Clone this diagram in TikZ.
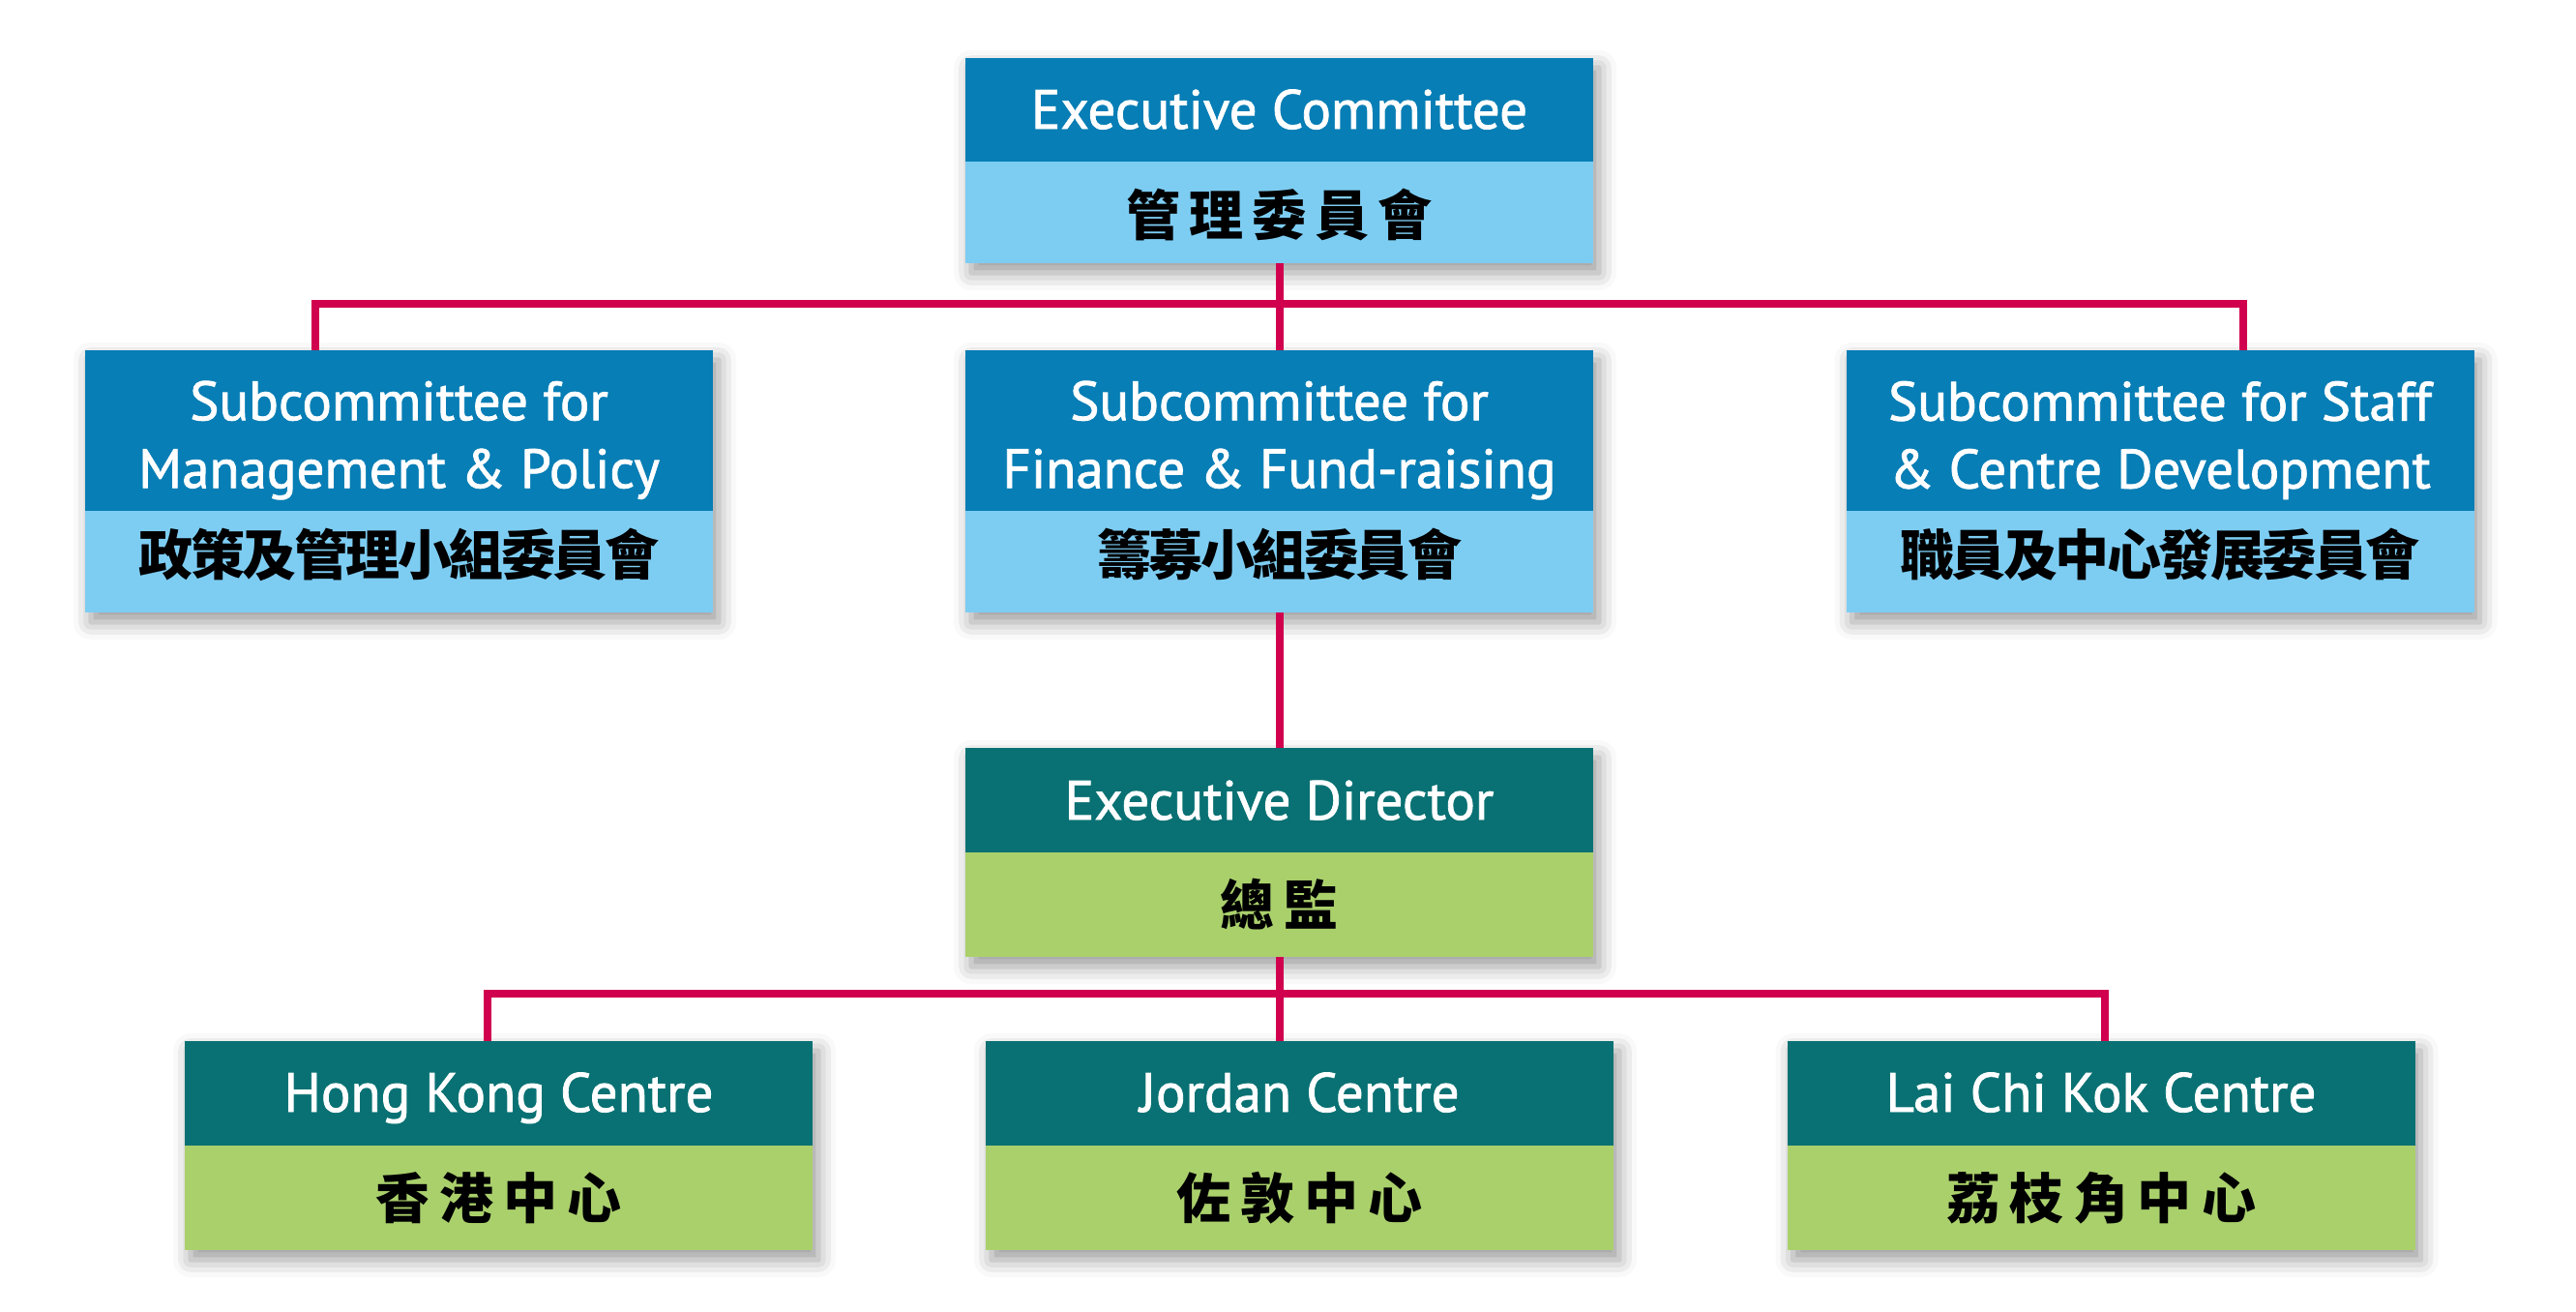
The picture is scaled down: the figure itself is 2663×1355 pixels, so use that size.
\documentclass[tikz,border=0pt]{standalone}
\usepackage{fontspec}
\setmainfont{PT Sans}[FakeBold=1.4]
\newfontfamily\cjk{Noto Sans CJK TC}
\usetikzlibrary{shadows.blur}
\definecolor{dblue}{RGB}{7,126,181}
\definecolor{lblue}{RGB}{125,205,243}
\definecolor{dteal}{RGB}{9,113,115}
\definecolor{lgreen}{RGB}{170,208,108}
\definecolor{conred}{RGB}{208,0,78}
% letter-spaced CJK: \cjksp{kern}{text}
\newcommand\cjksp[2]{\def\cjkspsep{\kern#1}\cjksploop#2\relax}
\def\cjksploop#1{\ifx\relax#1\else #1\expandafter\cjkspnext\fi}
\def\cjkspnext#1{\ifx\relax#1\else\cjkspsep #1\expandafter\cjkspnext\fi}
\tikzset{
  boxbase/.style={rectangle, inner sep=0pt, minimum width=649pt,
    blur shadow={shadow xshift=6pt, shadow yshift=-10pt, shadow blur radius=18pt, shadow opacity=40}},
  half/.style={rectangle, inner sep=0pt, minimum width=649pt, anchor=north},
  en/.style={inner sep=0pt, text=white, font=\fontsize{57pt}{70pt}\selectfont, align=center},
  zh/.style={inner sep=0pt, text=black, anchor=base, font=\fontsize{56pt}{60pt}\cjk\bfseries}
}
\tikzset{conn/.style={draw=conred, line width=8pt, line join=miter}}
\begin{document}
\begin{tikzpicture}[x=1pt,y=-1pt]
\useasboundingbox (0,0) rectangle (2663,1355);
% Executive Committee
\node[boxbase, fill=lblue, minimum height=212pt] (ec) at (1322.5,166) {};
\node[half, fill=dblue, minimum height=107pt] (ect) at (ec.north) {};
\node[en, anchor=base] (ecen) at (1322.5,133) {Executive Committee};
\node[zh] (eczh) at (1322.5,243) {\cjksp{9pt}{管理委員會}};
% Subcommittees
\node[boxbase, fill=lblue, minimum height=271pt] (mp) at (412.5,497.5) {};
\node[half, fill=dblue, minimum height=166pt] (mpt) at (mp.north) {};
\node[en] (mpen) at (412.5,455) {Subcommittee for\\Management \& Policy};
\node[zh] (mpzh) at (412.5,594) {\cjksp{-2.5pt}{政策及管理小組委員會}};
\node[boxbase, fill=lblue, minimum height=271pt] (mf) at (1322.5,497.5) {};
\node[half, fill=dblue, minimum height=166pt] (mft) at (mf.north) {};
\node[en] (mfen) at (1322.5,455) {Subcommittee for\\Finance \& Fund-raising};
\node[zh] (mfzh) at (1322.5,594) {\cjksp{-2.5pt}{籌募小組委員會}};
\node[boxbase, fill=lblue, minimum height=271pt] (sc) at (2233,497.5) {};
\node[half, fill=dblue, minimum height=166pt] (sct) at (sc.north) {};
\node[en] (scen) at (2233,455) {Subcommittee for Staff\\\& Centre Development};
\node[zh] (sczh) at (2233,594) {\cjksp{-2.5pt}{職員及中心發展委員會}};
% Executive Director
\node[boxbase, fill=lgreen, minimum height=216pt] (ed) at (1322.5,881) {};
\node[half, fill=dteal, minimum height=108pt] (edt) at (ed.north) {};
\node[en, anchor=base] (eden) at (1322.5,847) {Executive Director};
\node[zh] (edzh) at (1322.5,956) {\cjksp{10pt}{總監}};
% Centres
\node[boxbase, fill=lgreen, minimum height=216pt] (hk) at (515.5,1184) {};
\node[half, fill=dteal, minimum height=108pt] (hkt) at (hk.north) {};
\node[en, anchor=base] (hken) at (515.5,1149) {Hong Kong Centre};
\node[zh] (hkzh) at (515.5,1259) {\cjksp{10pt}{香港中心}};
\node[boxbase, fill=lgreen, minimum height=216pt] (jo) at (1343.5,1184) {};
\node[half, fill=dteal, minimum height=108pt] (jot) at (jo.north) {};
\node[en, anchor=base] (joen) at (1343.5,1149) {Jordan Centre};
\node[zh] (jozh) at (1343.5,1259) {\cjksp{10pt}{佐敦中心}};
\node[boxbase, fill=lgreen, minimum height=216pt] (lk) at (2172,1184) {};
\node[half, fill=dteal, minimum height=108pt] (lkt) at (lk.north) {};
\node[en, anchor=base] (lken) at (2172,1149) {Lai Chi Kok Centre};
\node[zh] (lkzh) at (2172,1259) {\cjksp{10pt}{荔枝角中心}};
% Connectors
\coordinate (b1L) at (326,314);
\coordinate (b1R) at (2319,314);
\coordinate (b2L) at (504,1027);
\coordinate (b2R) at (2176,1027);
\draw[conn] (ec.south) -- (mf.north);
\draw[conn] (b1L |- mp.north) -- (b1L) -- (b1R) -- (b1R |- sc.north);
\draw[conn] (mf.south) -- (ed.north);
\draw[conn] (ed.south) -- (ed.south |- jo.north);
\draw[conn] (b2L |- hk.north) -- (b2L) -- (b2R) -- (b2R |- lk.north);
\end{tikzpicture}
\end{document}
